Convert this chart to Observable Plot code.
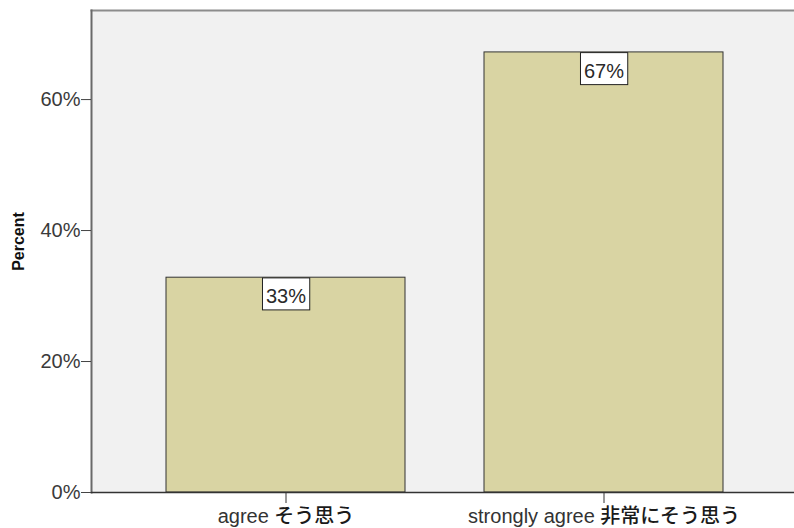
<!DOCTYPE html>
<html>
<head>
<meta charset="utf-8">
<script src="https://cdn.jsdelivr.net/npm/d3@7"></script>
<script src="https://cdn.jsdelivr.net/npm/@observablehq/plot@0.6"></script>
<style>
  body { margin: 0; background: #fff; overflow: hidden; }
  #chart svg { display: block; }
</style>
</head>
<body>
<div id="chart"></div>
<script>
const categories = ["agree そう思う", "strongly agree 非常にそう思う"];
const percents = [32.8, 67.2];
const valueLabels = ["33%", "67%"];
const yTicks = [0, 20, 40, 60];
const yLabel = "Percent";

const data = categories.map((c, i) => ({cat: c, pct: percents[i], label: valueLabels[i]}));

const font = "'Liberation Sans', Arial, 'Noto Sans CJK JP', sans-serif";

const chart = Plot.plot({
  width: 794,
  height: 528,
  marginLeft: 91,
  marginRight: -4,
  marginTop: 10,
  marginBottom: 36,
  style: {fontFamily: font, background: "#fff"},
  x: {domain: categories, paddingInner: 0.25, paddingOuter: 0.236, label: null},
  y: {domain: [0, 73.6], label: null},
  marks: [
    Plot.frame({fill: "#f1f1f1", stroke: null}),
    Plot.frame({anchor: "top", stroke: "#8c8c8c", strokeWidth: 2}),
    Plot.frame({anchor: "left", stroke: "#6a6a6a", strokeWidth: 2}),
    Plot.barY(data, {x: "cat", y: "pct", fill: "#d9d4a3", stroke: "#333", strokeWidth: 1}),
    Plot.ruleY([0], {stroke: "#333", strokeWidth: 1.5}),
    Plot.axisY(yTicks, {tickSize: 10, tickPadding: 1, tickFormat: d => d + "%", fontSize: 20, fill: "#3a3a3a", stroke: "#444", label: null}),
    Plot.axisX({tickSize: 11, tickPadding: 5, fontSize: 20, fill: "#333", stroke: "#333", label: null}),
    Plot.text([yLabel], {frameAnchor: "left", rotate: -90, textAnchor: "middle", dx: -73, dy: -10, fontSize: 16, fontWeight: "bold", fill: "#111"}),
    Plot.text(data, {x: "cat", y: "pct", text: "label", lineAnchor: "top", dy: 11, fontSize: 20, fill: "#2a2a2a"})
  ]
});

document.getElementById("chart").appendChild(chart);

// White boxes behind the value labels, sized from their rendered text
d3.select(chart).selectAll("text").filter(function() {
  return valueLabels.includes(this.textContent);
}).each(function() {
  const b = this.getBBox();
  const t = this.getAttribute("transform");
  const rect = document.createElementNS("http://www.w3.org/2000/svg", "rect");
  rect.setAttribute("x", b.x - 3.5);
  rect.setAttribute("y", b.y - 7);
  rect.setAttribute("width", b.width + 7);
  rect.setAttribute("height", b.height + 10);
  rect.setAttribute("fill", "#fff");
  rect.setAttribute("stroke", "#222");
  rect.setAttribute("stroke-width", 1);
  if (t) rect.setAttribute("transform", t);
  this.parentNode.insertBefore(rect, this);
});

// Japanese part of the category labels drawn a little heavier, as in the reference
d3.select(chart).selectAll("text").filter(function() {
  return categories.includes(this.textContent);
}).each(function() {
  const s = this.textContent;
  const m = s.match(/^(.*?)([\u3040-\u9fff].*)$/);
  if (!m) return;
  const sel = d3.select(this);
  sel.text(null);
  sel.append("tspan").text(m[1]);
  sel.append("tspan").attr("font-weight", "500").attr("fill", "#1a1a1a").text(m[2]);
});
</script>
</body>
</html>
